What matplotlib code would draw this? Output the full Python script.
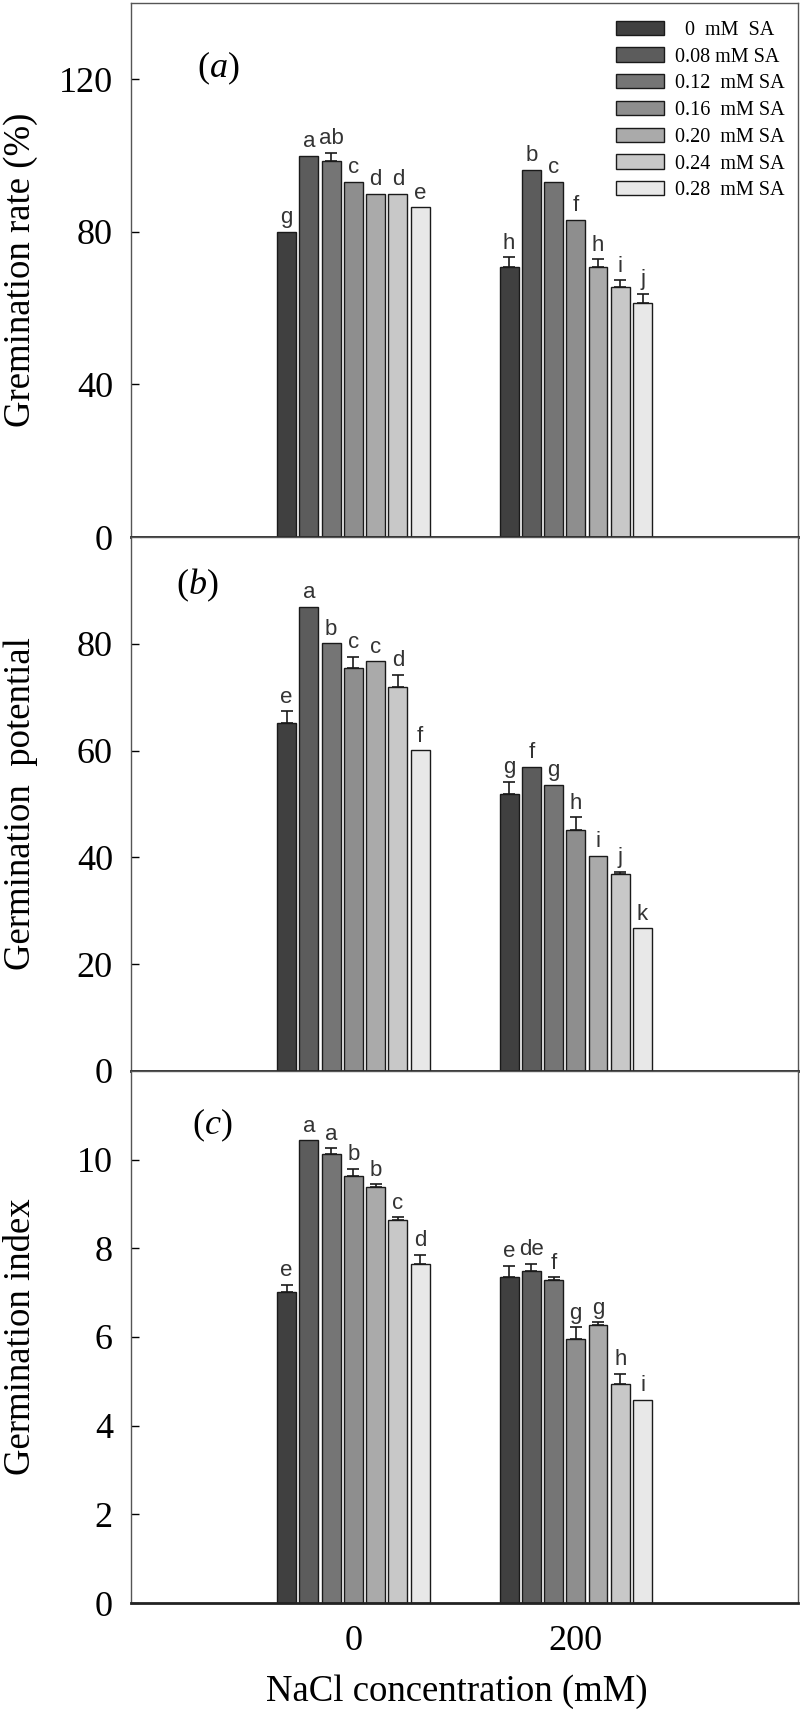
import numpy as np
import matplotlib
matplotlib.use('Agg')
import matplotlib.pyplot as plt

plt.rcParams['font.family'] = ['Liberation Serif', 'DejaVu Serif']
plt.rcParams['mathtext.fontset'] = 'custom'
plt.rcParams['mathtext.rm'] = 'Liberation Serif'
plt.rcParams['mathtext.it'] = 'Liberation Serif:italic'

# 数据
nacl = ['0', '200']
sa_labels = ['  0  mM  SA', '0.08 mM SA', '0.12  mM SA', '0.16  mM SA',
             '0.20  mM SA', '0.24  mM SA', '0.28  mM SA']
colors = ['#404040', '#5c5c5c', '#757575', '#8e8e8e', '#aaaaaa', '#c8c8c8', '#e8e8e8']

# (a) germination rate
rate_0 = [80.0, 100.0, 98.7, 93.1, 90.0, 90.0, 86.5]
rate_200 = [70.9, 96.3, 93.1, 83.2, 70.9, 65.5, 61.4]
rate_err_0 = [0, 0, 2.0, 0, 0, 0, 0]
rate_err_200 = [2.5, 0, 0, 0, 2.0, 1.8, 2.4]
rate_let_0 = ['g', 'a', 'ab', 'c', 'd', 'd', 'e']
rate_let_200 = ['h', 'b', 'c', 'f', 'h', 'i', 'j']

# (b) germination potential
pot_0 = [65.1, 86.9, 80.1, 75.4, 76.7, 71.9, 60.1]
pot_200 = [51.9, 57.0, 53.6, 45.1, 40.3, 36.8, 26.7]
pot_err_0 = [2.3, 0, 0, 2.2, 0, 2.3, 0]
pot_err_200 = [2.3, 0, 0, 2.4, 0, 0.5, 0]
pot_let_0 = ['e', 'a', 'b', 'c', 'c', 'd', 'f']
pot_let_200 = ['g', 'f', 'g', 'h', 'i', 'j', 'k']

# (c) germination index
idx_0 = [7.01, 10.44, 10.13, 9.62, 9.39, 8.64, 7.65]
idx_200 = [7.35, 7.48, 7.29, 5.96, 6.26, 4.95, 4.59]
idx_err_0 = [0.17, 0, 0.13, 0.17, 0.06, 0.06, 0.2]
idx_err_200 = [0.26, 0.17, 0.06, 0.26, 0.07, 0.22, 0]
idx_let_0 = ['e', 'a', 'a', 'b', 'b', 'c', 'd']
idx_let_200 = ['e', 'de', 'f', 'g', 'g', 'h', 'i']

panels = [
    dict(v0=rate_0, v200=rate_200, e0=rate_err_0, e200=rate_err_200,
         l0=rate_let_0, l200=rate_let_200, ylim=140, yticks=[0, 40, 80, 120],
         ylabel='Gremination rate (%)', tag=r'$(a)$', tagpos=(0.13, 0.878)),
    dict(v0=pot_0, v200=pot_200, e0=pot_err_0, e200=pot_err_200,
         l0=pot_let_0, l200=pot_let_200, ylim=100, yticks=[0, 20, 40, 60, 80],
         ylabel='Germination  potential', tag=r'$(b)$', tagpos=(0.099, 0.91)),
    dict(v0=idx_0, v200=idx_200, e0=idx_err_0, e200=idx_err_200,
         l0=idx_let_0, l200=idx_let_200, ylim=12, yticks=[0, 2, 4, 6, 8, 10],
         ylabel='Germination index', tag=r'$(c)$', tagpos=(0.121, 0.898)),
]

fig = plt.figure(figsize=(8, 17.13), dpi=100)
left, width = 0.16375, 0.834
bottoms = [0.6865, 0.3748, 0.0642]
heights = [0.3117, 0.3117, 0.3106]

centers = np.array([1.0, 2.0])
pitch = 0.1
bar_w = 0.085

for k, p in enumerate(panels):
    ax = fig.add_axes([left, bottoms[k], width, heights[k]])
    for i in range(7):
        xs = centers + (i - 3) * pitch
        vals = [p['v0'][i], p['v200'][i]]
        errs = [p['e0'][i], p['e200'][i]]
        ax.bar(xs, vals, width=bar_w, color=colors[i], edgecolor='#1a1a1a',
               linewidth=1.0, label=sa_labels[i], zorder=2)
        for x, v, e, let in zip(xs, vals, errs, [p['l0'][i], p['l200'][i]]):
            if e > 0:
                ax.errorbar(x, v, yerr=[[0], [e]], fmt='none', ecolor='#1a1a1a',
                            elinewidth=1.2, capsize=4.5, capthick=1.2, zorder=3)
            ax.annotate(let, (x, v + e), xytext=(0, 2.5), textcoords='offset points',
                        ha='center', va='bottom', fontsize=16, color='#333333',
                        family=['Liberation Sans', 'DejaVu Sans'])

    ax.set_xlim(0, 3)
    ax.set_ylim(0, p['ylim'])
    ax.set_yticks(p['yticks'])
    ax.tick_params(axis='y', direction='in', length=6, width=1, pad=13, labelsize=26)
    ax.set_ylabel(p['ylabel'], fontsize=26.5, va='center')
    ax.yaxis.set_label_coords(-0.165, 0.5)
    ax.text(p['tagpos'][0], p['tagpos'][1], p['tag'], transform=ax.transAxes,
            ha='center', va='center', fontsize=26)

    for s in ['left', 'top', 'right']:
        ax.spines[s].set_color('#555555')
        ax.spines[s].set_linewidth(1.0)
    ax.spines['bottom'].set_color('#222222')
    ax.spines['bottom'].set_linewidth(2.0)
    ax.spines['bottom'].set_zorder(4)

    if k == 2:
        ax.set_xticks(centers)
        ax.set_xticklabels(nacl)
        ax.tick_params(axis='x', length=0, pad=16, labelsize=26)
        ax.set_xlabel('NaCl concentration (mM)', fontsize=26.5, va='center')
        ax.xaxis.set_label_coords(0.489, -0.167)
    else:
        ax.set_xticks([])

    if k == 0:
        ax.legend(loc='upper left', bbox_to_anchor=(0.727, 0.967), frameon=False,
                  fontsize=14.5, handlelength=2.4, handleheight=0.7,
                  handletextpad=0.55, labelspacing=0.38, borderpad=0, borderaxespad=0)

plt.savefig('out.png', dpi=100)
